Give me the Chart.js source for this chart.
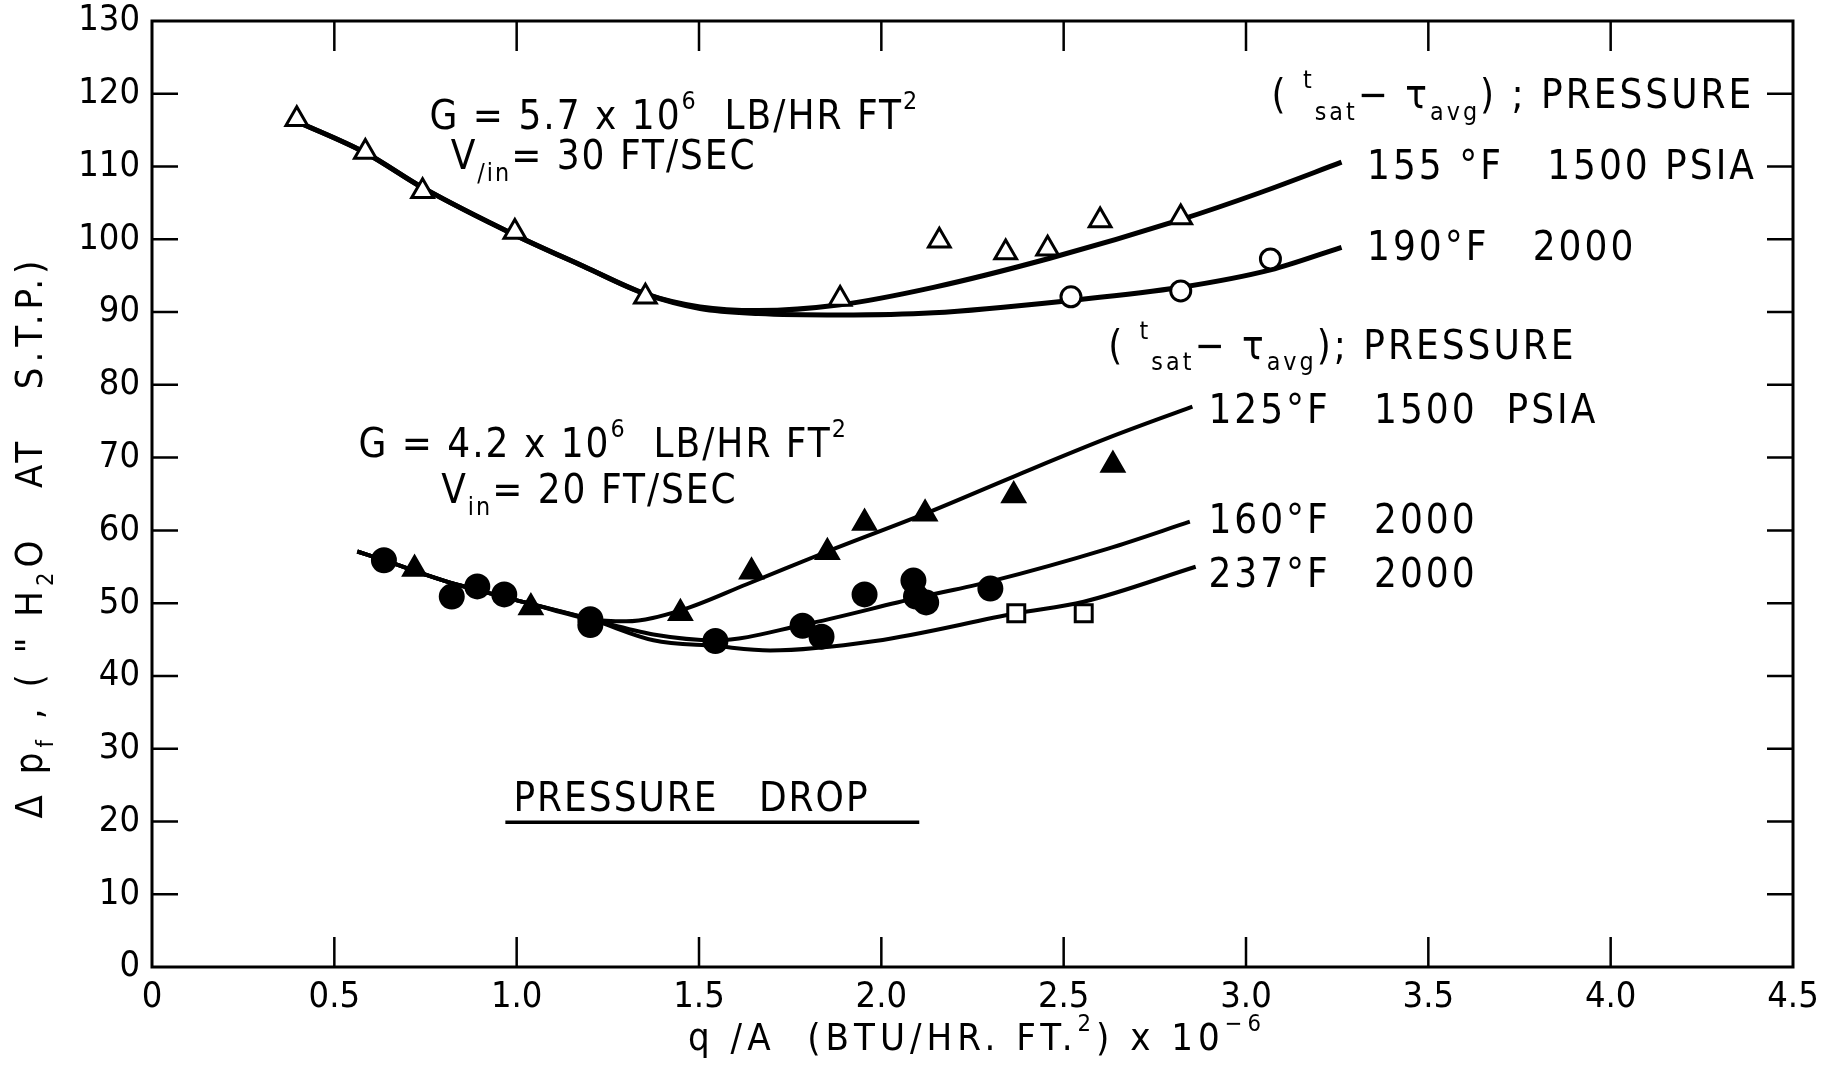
<!DOCTYPE html>
<html>
<head>
<meta charset="utf-8">
<script src="https://cdn.jsdelivr.net/npm/chart.js@4.4.1/dist/chart.umd.min.js"></script>
<style>
  html, body { margin:0; padding:0; background:#fff; }
  #wrap { width:1832px; height:1067px; position:relative; }
</style>
</head>
<body>
<div id="wrap"><canvas id="grafico"></canvas></div>
<script>
var FONT = "'DejaVu Sans Condensed', 'DejaVu Sans', sans-serif";

// G = 5.7e6, curves
var curve155x = [0.397, 0.585, 0.742, 0.995, 1.183, 1.353, 1.503, 1.663, 1.887, 2.143, 2.462, 2.821, 3.038, 3.262];
var curve155y = [116.2, 111.9, 107.1, 100.6, 96.3, 92.5, 90.7, 90.2, 91.0, 93.4, 97.4, 102.7, 106.4, 110.6];
var curve190x = [0.397, 0.585, 0.742, 0.995, 1.183, 1.353, 1.503, 1.663, 1.887, 2.143, 2.520, 2.821, 3.067, 3.262];
var curve190y = [116.2, 111.9, 107.1, 100.6, 96.3, 92.5, 90.5, 89.8, 89.6, 89.9, 91.6, 93.4, 95.8, 98.9];

// G = 5.7e6, measured points
var tri155x = [0.397, 0.585, 0.742, 0.995, 1.353, 1.887, 2.159, 2.341, 2.456, 2.600, 2.821];
var tri155y = [116.5, 112.0, 106.6, 101.0, 92.1, 91.8, 99.8, 98.2, 98.7, 102.6, 103.0];
var circ190x = [2.520, 2.821, 3.067];
var circ190y = [92.1, 92.9, 97.3];

// G = 4.2e6, curves
var curve125x = [0.563, 0.636, 0.800, 1.039, 1.202, 1.300, 1.449, 1.631, 1.852, 2.120, 2.363, 2.622, 2.853];
var curve125y = [57.1, 55.9, 53.1, 49.9, 47.8, 47.5, 49.0, 52.6, 57.1, 62.3, 67.4, 72.7, 77.0];
var curve160x = [0.563, 0.636, 0.800, 1.039, 1.202, 1.375, 1.545, 1.784, 2.095, 2.300, 2.622, 2.846];
var curve160y = [57.1, 55.9, 53.1, 49.9, 47.8, 45.7, 44.9, 47.0, 50.7, 53.0, 57.5, 61.2];
var curve237x = [0.563, 0.636, 0.800, 1.039, 1.202, 1.375, 1.545, 1.695, 1.983, 2.370, 2.555, 2.862];
var curve237y = [57.1, 55.9, 53.1, 49.9, 47.8, 44.9, 44.1, 43.5, 44.8, 48.6, 50.2, 55.0];

// G = 4.2e6, measured points
var tri125x = [0.720, 1.039, 1.449, 1.644, 1.852, 1.954, 2.120, 2.363, 2.635];
var tri125y = [54.7, 49.4, 48.6, 54.3, 57.0, 61.0, 62.3, 64.8, 69.0];
var dot160x = [0.636, 0.822, 0.892, 0.966, 1.202, 1.202, 1.545, 1.784, 1.836, 1.954, 2.088, 2.095, 2.123, 2.299];
var dot160y = [55.9, 50.9, 52.3, 51.2, 47.8, 47.0, 44.8, 46.9, 45.4, 51.2, 53.1, 50.9, 50.1, 52.0];
var sq237x = [2.370, 2.555];
var sq237y = [48.6, 48.6];

var xTicks = [0, 0.5, 1.0, 1.5, 2.0, 2.5, 3.0, 3.5, 4.0, 4.5];
var yTicks = [0, 10, 20, 30, 40, 50, 60, 70, 80, 90, 100, 110, 120, 130];

var notes = [
  {x:0.761, y:115.1, sp:2, parts:[['G = 5.7 x 10'], ['6','sup'], ['  LB/HR FT'], ['2','sup']]},
  {x:0.819, y:109.6, sp:2, parts:[['V'], ['/in','sub'], ['= 30 FT/SEC']]},
  {x:3.070, y:118.0, sp:3, parts:[['( '], ['t','sup'], ['sat','sub'], ['\u2212 \u03c4'], ['avg','sub'], [') ; PRESSURE']]},
  {x:3.332, y:108.3, sp:3, parts:[['155 \u00b0F   1500 PSIA']]},
  {x:3.332, y:97.1, sp:3, parts:[['190\u00b0F   2000']]},
  {x:2.622, y:83.6, sp:3, parts:[['( '], ['t','sup'], ['sat','sub'], ['\u2212 \u03c4'], ['avg','sub'], ['); PRESSURE']]},
  {x:2.897, y:74.8, sp:3, parts:[['125\u00b0F   1500  PSIA']]},
  {x:0.566, y:70.1, sp:2, parts:[['G = 4.2 x 10'], ['6','sup'], ['  LB/HR FT'], ['2','sup']]},
  {x:0.793, y:63.7, sp:2, parts:[['V'], ['in','sub'], ['= 20 FT/SEC']]},
  {x:2.897, y:59.7, sp:3, parts:[['160\u00b0F   2000']]},
  {x:2.897, y:52.2, sp:3, parts:[['237\u00b0F   2000']]},
  {x:0.991, y:21.5, sp:2, parts:[['PRESSURE   DROP']]}
];
var underline = {x1:0.969, x2:2.104, y:19.9};

function pts(xs, ys) {
  return xs.map(function(x, i) { return {x:x, y:ys[i]}; });
}

function linha(xs, ys, w) {
  return {
    data: pts(xs, ys), showLine:true, pointRadius:0, borderColor:'#000',
    borderWidth:w, cubicInterpolationMode:'monotone', fill:false, order:2
  };
}

function marca(xs, ys, estilo, fundo, r) {
  return {
    data: pts(xs, ys), showLine:false, pointStyle:estilo, pointRadius:r,
    pointBackgroundColor:fundo, pointBorderColor:'#000', pointBorderWidth:3, order:1
  };
}

function rich(ctx, x, y, parts, size, align) {
  var pieces = parts.map(function(p) {
    var s = size, dy = 0;
    if (p[1] === 'sup') { s = size * 0.62; dy = -size * 0.5; }
    if (p[1] === 'sub') { s = size * 0.62; dy = size * 0.28; }
    ctx.font = s + 'px ' + FONT;
    return {t:p[0], s:s, dy:dy, w:ctx.measureText(p[0]).width};
  });
  var total = pieces.reduce(function(a, p) { return a + p.w; }, 0);
  var cx = align === 'center' ? x - total / 2 : x;
  pieces.forEach(function(p) {
    ctx.font = p.s + 'px ' + FONT;
    ctx.fillText(p.t, cx, y + p.dy);
    cx += p.w;
  });
}

var frame = {
  id: 'frame',
  afterDraw: function(chart) {
    var ctx = chart.ctx, a = chart.chartArea, xs = chart.scales.x, ys = chart.scales.y;
    ctx.save();
    ctx.strokeStyle = '#000';
    ctx.fillStyle = '#000';
    ctx.lineWidth = 3;
    ctx.strokeRect(a.left, a.top, a.right - a.left, a.bottom - a.top);

    ctx.lineWidth = 2.5;
    ctx.beginPath();
    ys.ticks.forEach(function(t) {
      if (t.value <= 0 || t.value >= 130) return;
      var y = ys.getPixelForValue(t.value);
      ctx.moveTo(a.left, y); ctx.lineTo(a.left + 26, y);
      ctx.moveTo(a.right, y); ctx.lineTo(a.right - 26, y);
    });
    xs.ticks.forEach(function(t) {
      if (t.value <= 0 || t.value >= 4.5) return;
      var x = xs.getPixelForValue(t.value);
      ctx.moveTo(x, a.bottom); ctx.lineTo(x, a.bottom - 30);
      ctx.moveTo(x, a.top); ctx.lineTo(x, a.top + 30);
    });
    ctx.stroke();

    ctx.textBaseline = 'alphabetic';
    ctx.textAlign = 'left';
    notes.forEach(function(n) {
      ctx.letterSpacing = n.sp + 'px';
      rich(ctx, xs.getPixelForValue(n.x), ys.getPixelForValue(n.y), n.parts, 40, 'left');
    });

    ctx.lineWidth = 3.5;
    ctx.beginPath();
    ctx.moveTo(xs.getPixelForValue(underline.x1), ys.getPixelForValue(underline.y));
    ctx.lineTo(xs.getPixelForValue(underline.x2), ys.getPixelForValue(underline.y));
    ctx.stroke();

    // axis titles
    ctx.letterSpacing = '5px';
    rich(ctx, 977, 1050,
      [['q /A  (BTU/HR. FT.'], ['2','sup'], [') x 10'], ['\u22126','sup']], 38, 'center');
    ctx.translate(42, 537);
    ctx.rotate(-Math.PI / 2);
    ctx.letterSpacing = '5px';
    rich(ctx, 0, 0,
      [['\u0394 p'], ['f','sub'], [' , ( " H'], ['2','sub'], ['O   AT   S.T.P.)']], 38, 'center');
    ctx.restore();
  }
};

window.onload = function() {
  var ctx = document.getElementById('grafico').getContext('2d');
  new Chart(ctx, {
    type: 'scatter',
    data: {
      datasets: [
        linha(curve155x, curve155y, 5),
        linha(curve190x, curve190y, 5),
        linha(curve125x, curve125y, 4),
        linha(curve160x, curve160y, 4),
        linha(curve237x, curve237y, 4),
        marca(tri155x, tri155y, 'triangle', '#fff', 12.5),
        marca(circ190x, circ190y, 'circle', '#fff', 10),
        marca(tri125x, tri125y, 'triangle', '#000', 12.5),
        marca(dot160x, dot160y, 'circle', '#000', 11.5),
        marca(sq237x, sq237y, 'rect', '#fff', 12)
      ]
    },
    options: {
      responsive: true,
      maintainAspectRatio: false,
      animation: false,
      events: [],
      devicePixelRatio: 1,
      layout: { padding: { top:21, right:39, left:0, bottom:0 } },
      plugins: { legend: { display:false }, tooltip: { enabled:false } },
      scales: {
        x: {
          type: 'linear', min:0, max:4.5,
          afterFit: function(s) { s.height = 100; s.paddingLeft = 0; s.paddingRight = 0; },
          afterBuildTicks: function(s) { s.ticks = xTicks.map(function(v) { return {value:v}; }); },
          grid: { display:false },
          border: { display:false },
          ticks: {
            color:'#000', padding:1, maxRotation:0, autoSkip:false,
            font: { family:FONT, size:36 },
            callback: function(v) { return v === 0 ? '0' : v.toFixed(1); }
          }
        },
        y: {
          type: 'linear', min:0, max:130,
          afterFit: function(s) { s.width = 152; s.paddingTop = 0; s.paddingBottom = 0; },
          afterBuildTicks: function(s) { s.ticks = yTicks.map(function(v) { return {value:v}; }); },
          grid: { display:false },
          border: { display:false },
          ticks: {
            color:'#000', padding:4, autoSkip:false,
            font: { family:FONT, size:36 }
          }
        }
      }
    },
    plugins: [frame]
  });
};
</script>
</body>
</html>
